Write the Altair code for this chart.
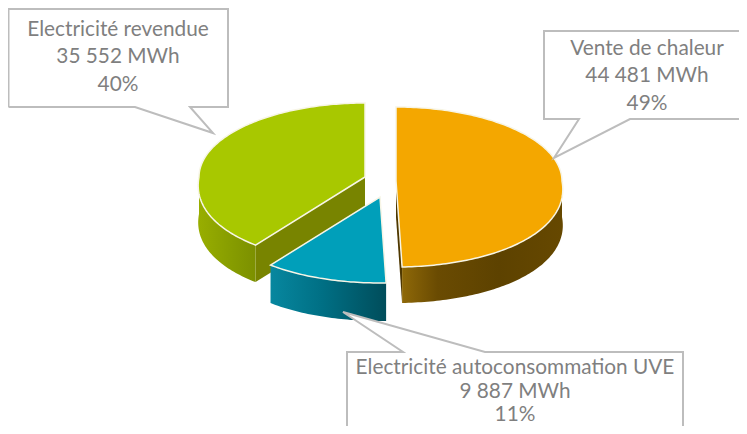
import math
import altair as alt

# ---- values ----
names = ["Vente de chaleur", "Electricité autoconsommation UVE", "Electricité revendue"]
mwh = [44481, 9887, 35552]
mwh_labels = ["44 481 MWh", "9 887 MWh", "35 552 MWh"]
pct_labels = ["49%", "11%", "40%"]

# ---- styling / layout (reference pixels) ----
OFF = 8
W, H = 731, 418
RX, RY_BACK, RY_FRONT = 166, 74, 86
FRONT_BULGE = 0.10
TEXT = "#7f7f7f"
BORDER = "#bdbdbd"
FONT = "Lato"
FSIZE = 20.8
centers = [(396, 181, 36), (380, 197, 38), (365, 177, 37)]
tops = ["#f4a700", "#009fba", "#a8c800"]
wall_grads = [
    [("#8e6808", 0), ("#6a4b02", 0.22), ("#5d4200", 0.6), ("#664800", 1)],
    [("#07879f", 0), ("#006f84", 0.45), ("#004d5b", 1)],
    [("#98ae00", 0), ("#869c00", 0.6), ("#7c9000", 1)],
]
inner_cols = ["#4f3800", "#00505f", "#788400"]
# callout outlines are open paths: they run off the page on the cut sides
callouts = [
    [(747, 31), (544, 31), (544, 119), (579, 119), (554, 158), (630, 119), (747, 119)],
    [(347, 434), (347, 352), (403, 352), (343, 312), (485, 352), (683, 352), (683, 434)],
    [(8.5, 107), (8.5, 9), (228, 9), (228, 107), (190, 107), (213, 133), (135, 107), (8.5, 107)],
]
text_pos = [(647, [49, 76, 104]), (515, [368, 392, 415]), (118, [30, 57, 85])]


def pt(c, deg, dy=0):
    t = math.radians(deg)
    cx, cy = c[0], c[1]
    s, k = math.sin(t), math.cos(t)
    ry = RY_FRONT if k < 0 else RY_BACK
    bulge = 1 + FRONT_BULGE * max(0.0, -k)
    return [cx + RX * s * bulge - OFF, cy - ry * k + dy - OFF]


def arc(c, a0, a1, dy=0):
    n = max(2, int(abs(a1 - a0)))
    return [pt(c, a0 + (a1 - a0) * i / n, dy) for i in range(n + 1)]


def feature(ring):
    return {"type": "Feature", "properties": {},
            "geometry": {"type": "Polygon", "coordinates": [ring + [ring[0]]]}}


def shape(ring, **mark):
    return alt.Chart(alt.Data(values=[feature(ring)])).mark_geoshape(**mark)


def path(points, **mark):
    f = {"type": "Feature", "properties": {},
         "geometry": {"type": "LineString", "coordinates": points}}
    return alt.Chart(alt.Data(values=[f])).mark_geoshape(filled=False, **mark)


total = sum(mwh)
angles = [0]
for v in mwh:
    angles.append(angles[-1] + 360 * v / total)

layers = []

for i in [2, 0, 1]:
    a0, a1 = angles[i], angles[i + 1]
    c = centers[i]
    d = c[2]
    apex = [c[0] - OFF, c[1] - OFF]
    # visible outer wall: only the part of the slice facing the viewer
    w0, w1 = max(a0, 90), min(a1, 270)
    grad = alt.Gradient(gradient="linear", x1=0, x2=1, y1=0, y2=0,
                        stops=[alt.GradientStop(color=col, offset=o) for col, o in wall_grads[i]])
    # cut faces
    cut_angle = a1 if i == 0 else a0
    if i != 1:
        e = pt(c, cut_angle)
        e2 = pt(c, cut_angle, d)
        layers.append(shape([apex, e, e2, [apex[0], apex[1] + d]], fill=inner_cols[i], strokeWidth=0))
    layers.append(shape(arc(c, w0, w1) + arc(c, w1, w0, d), fill=grad, strokeWidth=0))
    top = [apex] + arc(c, a0, a1)
    layers.append(shape(top, fill=tops[i], stroke="#f7f5e6", strokeWidth=1.5))

for ring in callouts:
    pts = [[x - OFF, y - OFF] for x, y in ring]
    layers.append(shape(pts, fill="white", strokeWidth=0))
    layers.append(path(pts, stroke=BORDER, strokeWidth=2))

rows = []
for i in range(3):
    cx, ys = text_pos[i]
    for line, y in zip([names[i], mwh_labels[i], pct_labels[i]], ys):
        rows.append({"t": line, "px": cx - OFF, "py": y - OFF})

layers.append(
    alt.Chart(alt.Data(values=rows))
    .mark_text(font=FONT, fontSize=FSIZE, color=TEXT, align="center", baseline="middle")
    .encode(longitude="px:Q", latitude="py:Q", text="t:N")
)

chart = (
    alt.layer(*layers)
    .project(type="identity", scale=1, translate=[0, 0])
    .properties(width=W, height=H, padding=0, background="white")
    .configure_view(stroke=None)
)
chart.save("out.html", embed_options={"renderer": "svg", "actions": False})
